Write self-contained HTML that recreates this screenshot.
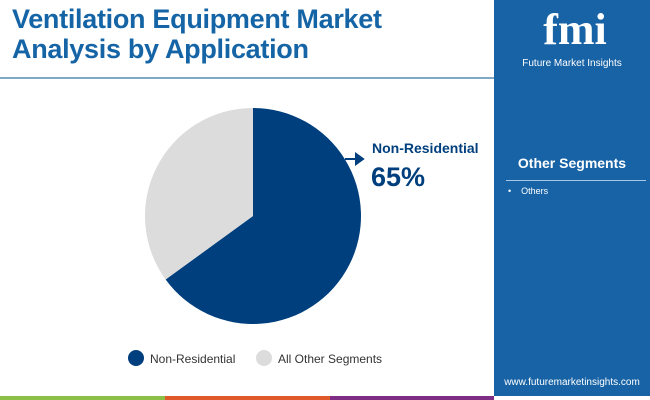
<!DOCTYPE html>
<html><head><meta charset="utf-8"><style>
body{margin:0;width:650px;height:400px;overflow:hidden;background:#fff;font-family:"Liberation Sans",sans-serif;position:relative}
.t{position:absolute;left:12px;top:4px;font-size:27px;font-weight:bold;color:#1565a6;line-height:30px;letter-spacing:-0.3px}
.panel{position:absolute;left:494px;top:0;width:156px;height:396px;background:#1763a6}
</style></head><body>
<div class="t">Ventilation Equipment Market<br>Analysis by Application</div>
<div style="position:absolute;left:0;top:77px;width:494px;height:2px;background:#7fa9c6"></div>
<div class="panel">
 <div style="position:absolute;left:26px;top:6px;width:110px;text-align:center;color:#fff;font-size:44px;font-weight:bold;line-height:48px;font-family:'Liberation Serif',serif">fmi</div>
 <div style="position:absolute;left:0;top:58px;width:156px;text-align:center;color:#fff;font-size:10px">Future Market Insights</div>
 <div style="position:absolute;left:0;top:155px;width:156px;text-align:center;color:#fff;font-size:14px;font-weight:bold">Other Segments</div>
 <div style="position:absolute;left:12px;top:180px;width:140px;height:1px;background:#a9c6e2"></div>
 <div style="position:absolute;left:14px;top:186px;color:#fff;font-size:9px">•&nbsp;&nbsp;&nbsp;&nbsp;Others</div>
 <div style="position:absolute;left:0;top:377px;width:156px;text-align:center;color:#fff;font-size:10px">www.futuremarketinsights.com</div>
</div>
<div style="position:absolute;left:0;top:396px;width:165px;height:4px;background:#8cbf45"></div>
<div style="position:absolute;left:165px;top:396px;width:165px;height:4px;background:#e0592a"></div>
<div style="position:absolute;left:330px;top:396px;width:164px;height:4px;background:#7f2e85"></div>
<svg id="c" width="494" height="396" style="position:absolute;left:0;top:0"></svg>
<script>
const categories=["Non-Residential","All Other Segments"];
const values=[65,35];
const colors=["#003f7d","#dcdcdc"];
const svg=document.getElementById('c');const NS="http://www.w3.org/2000/svg";
const cx=253,cy=216,r=108;
const total=values.reduce((a,b)=>a+b,0);
let a0=0;
function pt(a){return [cx+r*Math.sin(a),cy-r*Math.cos(a)];}
values.forEach((v,i)=>{
 const a1=a0+v/total*2*Math.PI;
 const p0=pt(a0),p1=pt(a1);
 const p=document.createElementNS(NS,'path');
 p.setAttribute('d',`M${cx},${cy}L${p0[0]},${p0[1]}A${r},${r} 0 ${a1-a0>Math.PI?1:0} 1 ${p1[0]},${p1[1]}Z`);
 p.setAttribute('fill',colors[i]);
 
 
 svg.appendChild(p);a0=a1;
});
// annotation
const ar=document.createElementNS(NS,'path');
ar.setAttribute('d','M345,159H362M356,154L363,159L356,164Z');
ar.setAttribute('stroke','#003f7d');ar.setAttribute('stroke-width','2');ar.setAttribute('fill','#003f7d');


svg.appendChild(ar);
function txt(x,y,s,size,w,fill,name){const t=document.createElementNS(NS,'text');t.setAttribute('x',x);t.setAttribute('y',y);t.setAttribute('font-size',size);t.setAttribute('font-weight',w);t.setAttribute('fill',fill);t.textContent=s;


svg.appendChild(t);}
txt(372,153,categories[0],14,'bold','#003f7d','annotation-label');
txt(371,186,values[0]+'%',27,'bold','#003f7d','annotation-value');
// legend
const lx=[136,264];
categories.forEach((c,i)=>{
 const g=document.createElementNS(NS,'circle');g.setAttribute('cx',lx[i]);g.setAttribute('cy',358);g.setAttribute('r',8);g.setAttribute('fill',colors[i]);
 
 
 svg.appendChild(g);
 txt(lx[i]+14,363,c,12,'normal','#333','legend-label-'+i);
});
</script>
</body></html>
